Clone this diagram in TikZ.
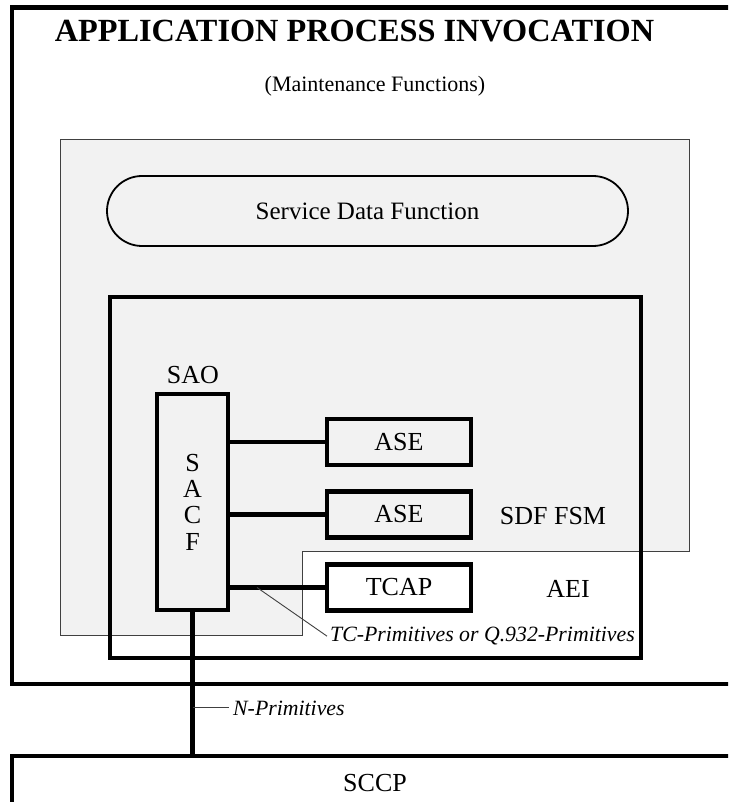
\documentclass[tikz,border=0pt]{standalone}
\usepackage{fontspec}
\setmainfont{Liberation Serif}
\usetikzlibrary{calc}
\definecolor{panelgrey}{HTML}{F2F2F2}
\tikzset{
  heavy/.style={line width=4.5pt},
  boxed/.style={draw, heavy, inner sep=0pt, outer sep=0pt},
  lbl/.style={font=\fontsize{26}{26}\selectfont, inner sep=0pt},
  ital/.style={font=\fontsize{21.8}{22}\selectfont\itshape},
  leader/.style={draw=black!75, line width=0.9pt},
}
\begin{document}
\begin{tikzpicture}[x=1pt, y=-1pt]
\useasboundingbox (0,0) rectangle (728,802);
\fill[white] (0,0) rectangle (728,802);
\clip (0,0) rectangle (728,802);

% application process invocation frame
\node[boxed, minimum width=760pt, minimum height=676.5pt, anchor=north west] (api) at (12,7.5) {};
\node[font=\fontsize{32.3}{32}\selectfont\bfseries, anchor=base, inner sep=0pt] (title) at (354.5,42) {APPLICATION PROCESS INVOCATION};
\node[font=\fontsize{22}{22}\selectfont, anchor=base, inner sep=0pt] (sub) at (375,92) {(Maintenance Functions)};

% shaded service data function area with its lower right notch
\filldraw[fill=panelgrey, draw=black!75, line width=1pt]
  (60,140) -- (689,140) -- (689,551) -- (302,551) -- (302,635) -- (60,635) -- cycle;

\node[draw, line width=1.8pt, fill=panelgrey, rounded corners=35pt,
      minimum width=521pt, minimum height=70pt, font=\fontsize{25}{25}\selectfont]
      (sdf) at (367.5,211) {Service Data Function};

% application entity invocation
\node[boxed, minimum width=531pt, minimum height=361pt] (aei) at (375.5,477.5) {};

\node[boxed, fill=panelgrey, minimum width=144pt, minimum height=46pt, lbl] (ase1) at (399,442) {ASE};
\node[boxed, fill=panelgrey, minimum width=144pt, minimum height=46pt, lbl] (ase2) at (399,514.5) {ASE};
\node[boxed, fill=white, minimum width=144pt, minimum height=46pt, lbl] (tcap) at (399,587.5) {TCAP};

\node[boxed, fill=panelgrey, minimum width=71pt, minimum height=216pt, align=center,
      font=\fontsize{26}{26.3}\selectfont] (sacf) at (192.5,502) {S\\A\\C\\F};

\draw[heavy] (sacf.east |- ase1.west) -- (ase1.west);
\draw[heavy] (sacf.east |- ase2.west) -- (ase2.west);
\draw[heavy] (sacf.east |- tcap.west) -- (tcap.west);

\node[lbl, anchor=base] (sao) at (193,383) {SAO};
\node[lbl, anchor=base] (sdffsm) at (553,524) {SDF FSM};
\node[lbl, anchor=base] (aeilbl) at (568,597) {AEI};

\node[ital, anchor=base west, inner xsep=3pt, inner ysep=0pt] (tcprim) at (327,641.6) {TC-Primitives or Q.932-Primitives};
\coordinate (tcfoot) at (257,587.5);
\draw[leader] (tcfoot) -- (tcprim.west);

% SCCP layer below
\node[boxed, minimum width=760pt, minimum height=100pt, anchor=north west] (sccp) at (12,756) {};
\node[lbl, anchor=base] (sccptext) at (375,791) {SCCP};

\draw[heavy] (sacf.south) -- (sacf.south |- sccp.north);

\node[ital, anchor=base west, inner xsep=4pt, inner ysep=0pt] (nprim) at (229,715) {N-Primitives};
\coordinate (nfoot) at (sacf.south |- nprim.west);
\draw[leader] (nfoot) -- (nprim.west);
\end{tikzpicture}
\end{document}
